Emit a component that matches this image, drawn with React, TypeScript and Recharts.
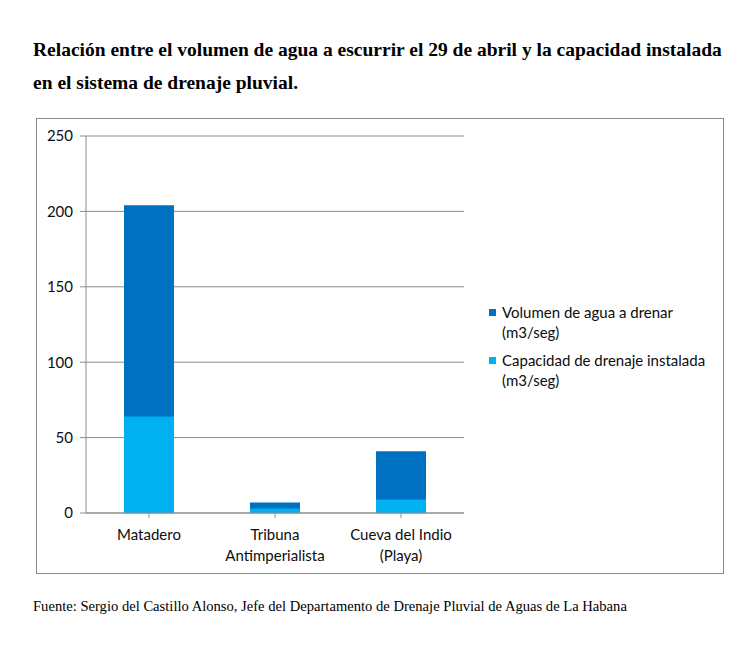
import { BarChart, Bar, XAxis, YAxis, CartesianGrid, Legend } from 'recharts';

const categories = ['Matadero', 'Tribuna\nAntimperialista', 'Cueva del Indio\n(Playa)'];
const volumen = [204, 7, 41];
const capacidad = [64, 3, 9];
const yTicks = [0, 50, 100, 150, 200, 250];

const seriesNames = ['Volumen de agua a drenar\n(m3/seg)', 'Capacidad de drenaje instalada\n(m3/seg)'];
const seriesColors = ['#0070C0', '#00B0F0'];

const data = categories.map((c, i) => ({ name: c, volumen: volumen[i], capacidad: capacidad[i] }));

const FONT = 'Lato, "Open Sans", sans-serif';

const CategoryTick = ({ x, y, payload }: any) => {
  const lines = String(payload.value).split('\n');
  return (
    <text x={x} y={y + 14} textAnchor="middle" fontSize={15} fontFamily={FONT} fill="#0d0d0d">
      {lines.map((l, i) => (
        <tspan key={i} x={x} dy={i === 0 ? 6 : 21}>
          {l}
        </tspan>
      ))}
    </text>
  );
};

const LegendBox = () => (
  <div style={{ fontFamily: FONT, fontSize: 15, color: '#0d0d0d', lineHeight: '20px' }}>
    {seriesNames.map((n, i) => (
      <div key={i} style={{ display: 'flex', alignItems: 'flex-start', marginBottom: 8 }}>
        <span
          style={{
            display: 'inline-block',
            width: 7,
            height: 7,
            background: seriesColors[i],
            marginTop: 7,
            marginRight: 6,
            flex: 'none',
          }}
        />
        <span style={{ whiteSpace: 'pre' }}>{n}</span>
      </div>
    ))}
  </div>
);

export default function App() {
  return (
    <div style={{ position: 'absolute', left: 0, top: 0, width: 755, height: 653, background: '#fff' }}>
      <div
        style={{
          position: 'absolute',
          left: 33,
          top: 33,
          width: 720,
          fontFamily: '"Liberation Serif", serif',
          fontWeight: 'bold',
          fontSize: 19.5,
          lineHeight: '33px',
          color: '#000',
          whiteSpace: 'nowrap',
        }}
      >
        Relación entre el volumen de agua a escurrir el 29 de abril y la capacidad instalada
        <br />
        en el sistema de drenaje pluvial.
      </div>

      <div
        style={{
          position: 'absolute',
          left: 36,
          top: 118,
          width: 688,
          height: 456,
          border: '1px solid #8c8c8c',
          boxSizing: 'border-box',
        }}
      >
        <BarChart
          width={686}
          height={454}
          data={data}
          margin={{ top: 17, right: 259, bottom: 16, left: 9 }}
          barSize={50}
          barGap={-50}
        >
          <CartesianGrid vertical={false} stroke="#8c8c8c" strokeWidth={1} />
          <XAxis
            dataKey="name"
            height={44}
            interval={0}
            tick={<CategoryTick />}
            axisLine={{ stroke: '#8c8c8c' }}
            tickLine={{ stroke: '#8c8c8c' }}
            tickSize={5}
          />
          <YAxis
            width={40}
            domain={[0, 250]}
            ticks={yTicks}
            interval={0}
            tick={{ fontSize: 15, fontFamily: FONT, fill: '#0d0d0d' }}
            axisLine={{ stroke: '#8c8c8c' }}
            tickLine={{ stroke: '#8c8c8c' }}
            tickSize={6}
            tickMargin={7}
          />
          <Legend
            layout="vertical"
            align="center"
            verticalAlign="middle"
            wrapperStyle={{ left: 452, top: 183, width: 240 }}
            content={<LegendBox />}
          />
          <Bar dataKey="volumen" name={seriesNames[0]} fill={seriesColors[0]} isAnimationActive={false} />
          <Bar dataKey="capacidad" name={seriesNames[1]} fill={seriesColors[1]} isAnimationActive={false} />
        </BarChart>
      </div>

      <div
        style={{
          position: 'absolute',
          left: 33,
          top: 598,
          fontFamily: '"Liberation Serif", serif',
          fontSize: 14.6,
          color: '#000',
          whiteSpace: 'nowrap',
        }}
      >
        Fuente: Sergio del Castillo Alonso, Jefe del Departamento de Drenaje Pluvial de Aguas de La Habana
      </div>
    </div>
  );
}
